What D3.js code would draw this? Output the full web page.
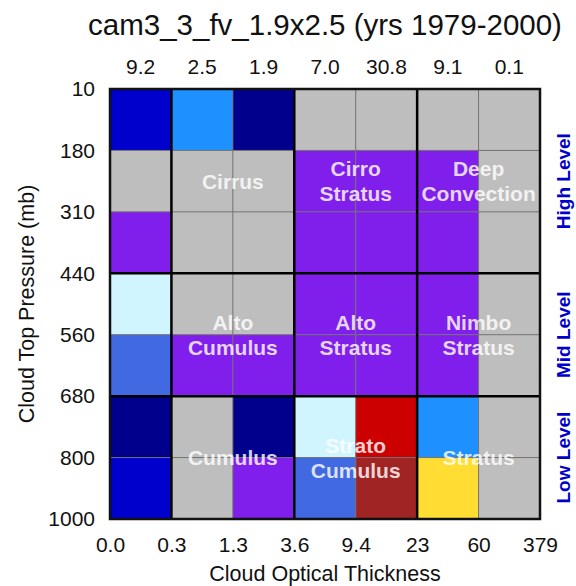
<!DOCTYPE html>
<html>
<head>
<meta charset="utf-8">
<script src="https://cdn.jsdelivr.net/npm/d3@7"></script>
<style>
  html, body { margin: 0; padding: 0; background: #fff; }
  svg { display: block; font-family: "Liberation Sans", Arial, Helvetica, sans-serif; }
</style>
</head>
<body>
<svg id="chart" width="576" height="586"></svg>
<script>
// ISCCP-style joint histogram: cloud top pressure vs. cloud optical thickness (% cloud cover)
const chartTitle = "cam3_3_fv_1.9x2.5 (yrs 1979-2000)";

// bin edges
const tauEdges = ["0.0", "0.3", "1.3", "3.6", "9.4", "23", "60", "379"];
const presEdges = ["10", "180", "310", "440", "560", "680", "800", "1000"];

// cloud fraction (%) per pressure bin, one value per optical-thickness bin
const p10_180   = [1.4, 2.0,  0.6,  0.1,  0.1,  0.05, 0.01];
const p180_310  = [0.1, 0.05, 0.03, 0.45, 0.45, 0.4,  0.02];
const p310_440  = [0.4, 0.03, 0.02, 0.45, 0.45, 0.4,  0.02];
const p440_560  = [3.2, 0.02, 0.05, 0.45, 0.45, 0.4,  0.01];
const p560_680  = [1.8, 0.3,  0.3,  0.45, 0.45, 0.4,  0.02];
const p680_800  = [0.9, 0.05, 0.6,  3.3,  12.0, 2.25, 0.01];
const p800_1000 = [1.4, 0.05, 0.3,  1.8,  16.9, 5.2,  0.01];

// colour levels
const levels = [0.2, 0.5, 1, 1.5, 2, 3, 4, 5, 7, 10, 15];
const levelColors = ["#bebebe", "#801eeb", "#00008c", "#0000cd", "#4169e1", "#1e90ff",
                     "#d0f5ff", "#66dd66", "#ffdd33", "#ff8c00", "#cc0000", "#a02424"];

// cloud-type labels: [first tau bin, last tau bin, first pres bin, last pres bin, lines]
const cloudTypes = [
  [1, 2, 0, 2, ["Cirrus"]],
  [3, 4, 0, 2, ["Cirro", "Stratus"]],
  [5, 6, 0, 2, ["Deep", "Convection"]],
  [1, 2, 3, 4, ["Alto", "Cumulus"]],
  [3, 4, 3, 4, ["Alto", "Stratus"]],
  [5, 6, 3, 4, ["Nimbo", "Stratus"]],
  [1, 2, 5, 6, ["Cumulus"]],
  [3, 4, 5, 6, ["Strato", "Cumulus"]],
  [5, 6, 5, 6, ["Stratus"]]
];
const levelNames = [[0, 3, "High Level"], [3, 5, "Mid Level"], [5, 7, "Low Level"]];
const tauGroupEdges = [1, 3, 5];
const presGroupEdges = [3, 5];

const rows = [p10_180, p180_310, p310_440, p440_560, p560_680, p680_800, p800_1000];
const cells = [];
rows.forEach((r, j) => r.forEach((v, i) => cells.push({ i, j, v })));
const colTotals = tauEdges.slice(0, -1).map((_, i) => d3.sum(rows, r => r[i]));

const svg = d3.select("#chart");
const plotLeft = 110, plotTop = 89, plotSize = 430;

const x = d3.scaleLinear().domain([0, 7]).range([plotLeft, plotLeft + plotSize]);
const y = d3.scaleLinear().domain([0, 7]).range([plotTop, plotTop + plotSize]);
const color = d3.scaleThreshold().domain(levels).range(levelColors);

// cells
svg.append("g").selectAll("rect").data(cells).join("rect")
  .attr("x", d => x(d.i)).attr("y", d => y(d.j))
  .attr("width", x(1) - x(0)).attr("height", y(1) - y(0))
  .attr("fill", d => color(d.v));

// thin bin lines
const g = svg.append("g");
g.selectAll("line.v").data(d3.range(1, 7)).join("line").attr("class", "v")
  .attr("x1", d => x(d)).attr("x2", d => x(d)).attr("y1", y(0)).attr("y2", y(7))
  .attr("stroke", "#707070").attr("stroke-width", 1);
g.selectAll("line.h").data(d3.range(1, 7)).join("line").attr("class", "h")
  .attr("y1", d => y(d)).attr("y2", d => y(d)).attr("x1", x(0)).attr("x2", x(7))
  .attr("stroke", "#707070").attr("stroke-width", 1);

// heavy cloud-type separators
g.selectAll("line.tv").data(tauGroupEdges).join("line").attr("class", "tv")
  .attr("x1", d => x(d)).attr("x2", d => x(d)).attr("y1", y(0)).attr("y2", y(7))
  .attr("stroke", "#000").attr("stroke-width", 2.5);
g.selectAll("line.th").data(presGroupEdges).join("line").attr("class", "th")
  .attr("y1", d => y(d)).attr("y2", d => y(d)).attr("x1", x(0)).attr("x2", x(7))
  .attr("stroke", "#000").attr("stroke-width", 2.5);
g.append("rect").attr("x", x(0)).attr("y", y(0))
  .attr("width", x(7) - x(0)).attr("height", y(7) - y(0))
  .attr("fill", "none").attr("stroke", "#111").attr("stroke-width", 2.5);

// cloud type names
const lab = svg.append("g").attr("fill", "#fff").attr("fill-opacity", 0.82)
  .attr("font-weight", "bold").attr("font-size", 21).attr("text-anchor", "middle");
cloudTypes.forEach(([i0, i1, j0, j1, lines]) => {
  const cx = (x(i0) + x(i1 + 1)) / 2;
  const cy = (y(j0) + y(j1 + 1)) / 2;
  lines.forEach((t, k) => {
    lab.append("text").attr("x", cx)
      .attr("y", cy + (k - (lines.length - 1) / 2) * 25)
      .attr("dy", "0.36em").text(t);
  });
});

// axes
const xAxis = d3.axisBottom(x).tickValues(d3.range(8)).tickFormat(i => tauEdges[i])
  .tickSize(0).tickPadding(18);
svg.append("g").attr("transform", `translate(0,${plotTop + plotSize})`).call(xAxis)
  .call(a => a.select(".domain").remove())
  .selectAll("text").attr("font-size", 21).attr("fill", "#111").attr("font-family", null);

const yAxis = d3.axisLeft(y).tickValues(d3.range(8)).tickFormat(i => presEdges[i])
  .tickSize(0).tickPadding(15);
svg.append("g").attr("transform", `translate(${plotLeft},0)`).call(yAxis)
  .call(a => a.select(".domain").remove())
  .selectAll("text").attr("font-size", 21).attr("fill", "#111").attr("font-family", null);

// column totals
svg.append("g").selectAll("text").data(colTotals).join("text")
  .attr("x", (d, i) => (x(i) + x(i + 1)) / 2).attr("y", 74)
  .attr("text-anchor", "middle").attr("font-size", 21).attr("fill", "#111")
  .text(d => d.toFixed(1));

// titles
svg.append("text").attr("x", plotLeft + plotSize / 2).attr("y", 35)
  .attr("text-anchor", "middle").attr("font-size", 29.5).attr("fill", "#111").text(chartTitle);
svg.append("text").attr("x", plotLeft + plotSize / 2).attr("y", 581)
  .attr("text-anchor", "middle").attr("font-size", 21.5).attr("fill", "#111")
  .text("Cloud Optical Thickness");
svg.append("text").attr("transform", `translate(34,${plotTop + plotSize / 2}) rotate(-90)`)
  .attr("text-anchor", "middle").attr("font-size", 21.5).attr("fill", "#111")
  .text("Cloud Top Pressure (mb)");

// level labels on the right
svg.append("g").selectAll("text").data(levelNames).join("text")
  .attr("transform", d => `translate(570,${(y(d[0]) + y(d[1])) / 2}) rotate(-90)`)
  .attr("text-anchor", "middle").attr("font-size", 19).attr("font-weight", "bold")
  .attr("fill", "#0000cc").text(d => d[2]);
</script>
</body>
</html>
